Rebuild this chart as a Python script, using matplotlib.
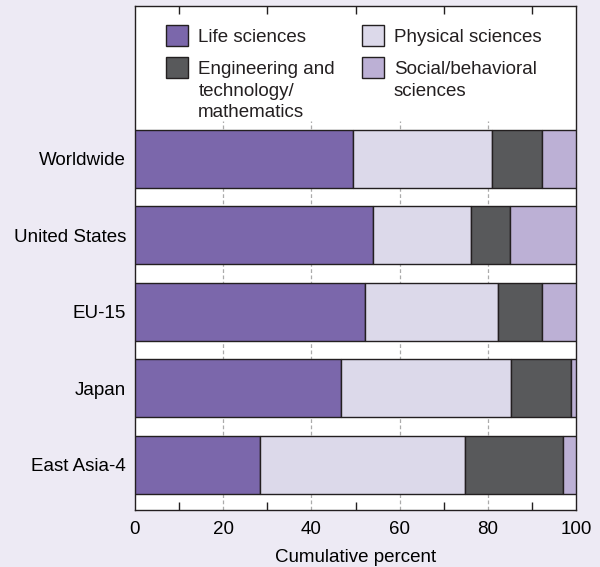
import numpy as np
import matplotlib
matplotlib.use("Agg")
import matplotlib.pyplot as plt
from matplotlib.patches import Rectangle
from matplotlib.ticker import MultipleLocator

# Dados (percentual por área)
regioes = ["Worldwide", "United States", "EU-15", "Japan", "East Asia-4"]
life = [49.5, 54.0, 52.1, 46.7, 28.4]
physical = [31.5, 22.3, 30.1, 38.6, 46.5]
engineering = [11.4, 8.7, 10.2, 13.5, 22.1]
social = [7.6, 15.0, 7.6, 1.2, 3.0]

rotulos = ["Life sciences", "Physical sciences",
           "Engineering and\ntechnology/\nmathematics",
           "Social/behavioral\nsciences"]
cores = ["#7b67ab", "#dcd9ea", "#58595b", "#bcb0d5"]
grade = [20, 40, 60, 80]

plt.rcParams["font.family"] = ["Liberation Sans", "DejaVu Sans"]
plt.rcParams["font.size"] = 13.5

fig = plt.figure(figsize=(6, 5.67), dpi=100, facecolor="#edeaf4")
ax = fig.add_axes([0.225, 0.1005, 0.735, 0.889])

y = np.arange(len(regioes))[::-1]
left = np.zeros(len(regioes))
for valores, cor in zip([life, physical, engineering, social], cores):
    ax.barh(y, valores, left=left, height=0.76, color=cor,
            edgecolor="#231f20", linewidth=1, zorder=3)
    left += np.array(valores)

ax.set_xlim(0, 100)
ax.set_ylim(-0.59, 6.0)
ax.set_yticks(y)
ax.set_yticklabels(regioes)
ax.tick_params(axis="y", length=0, pad=6.5)

ax.xaxis.set_major_locator(MultipleLocator(20))
ax.xaxis.set_minor_locator(MultipleLocator(10))
ax.tick_params(axis="x", which="major", length=0, pad=8)
ax.tick_params(axis="x", which="minor", direction="in", length=6,
               width=1, top=True, bottom=True, color="#231f20")
# linhas de grade só na região das barras
ax.vlines(grade, -0.59, y.max() + 0.5, colors="#ababab",
          linestyles=(0, (3, 2)), linewidth=0.9, zorder=1)
for s in ax.spines.values():
    s.set_color("#231f20")
    s.set_linewidth(1)

ax.set_xlabel("Cumulative percent", labelpad=8)

# Legenda em duas colunas (desenhada à mão)
pos_legenda = [(0.0703, 0.9617), (0.514, 0.9617), (0.0703, 0.8982), (0.514, 0.8982)]
for (x0, y0), rot, cor in zip(pos_legenda, rotulos, cores):
    ax.add_patch(Rectangle((x0, y0 - 0.0417), 0.0499, 0.0417,
                           transform=ax.transAxes, facecolor=cor,
                           edgecolor="#231f20", linewidth=1, zorder=5))
    ax.text(x0 + 0.0732, y0 - 0.0068, rot, transform=ax.transAxes,
            ha="left", va="top", linespacing=1.37, color="#231f20")

fig.savefig("out.png", dpi=100, facecolor=fig.get_facecolor())
